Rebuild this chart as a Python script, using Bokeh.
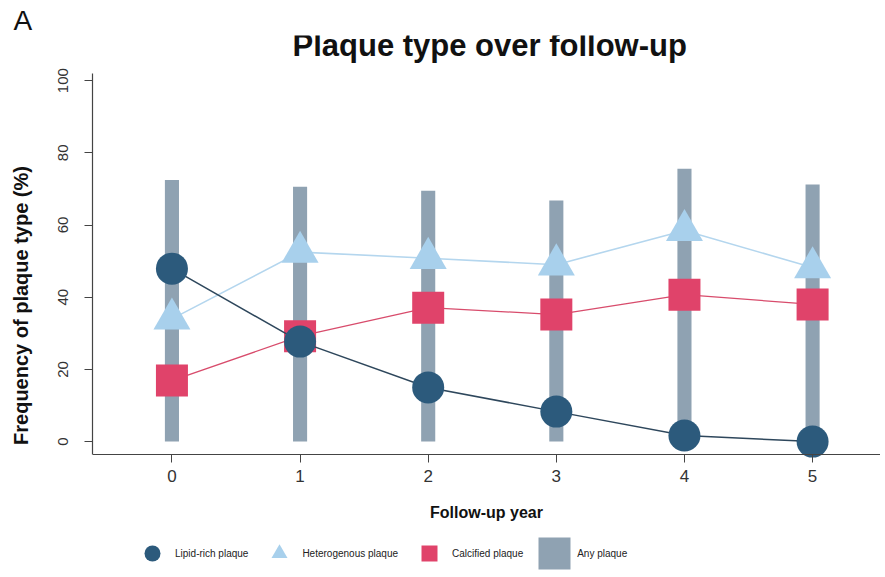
from bokeh.plotting import figure
from bokeh.models import Range1d, Legend, LegendItem, Label, FixedTicker
from bokeh.embed import file_html
from bokeh.resources import INLINE

# ---- data ----
years = [0, 1, 2, 3, 4, 5]
any_plaque = [72.5, 70.6, 69.5, 66.8, 75.6, 71.2]
lipid_rich = [47.9, 27.7, 15.0, 8.3, 1.7, 0.0]
heterogenous = [34.0, 52.5, 50.8, 49.0, 58.5, 48.2]
calcified = [16.9, 29.2, 37.1, 35.2, 40.7, 38.0]
y_ticks = [0, 20, 40, 60, 80, 100]

FONT = "Liberation Sans"
Y_AXIS_BOTTOM = -3.6   # where the x axis line sits (data units)

p = figure(width=880, height=575, output_backend="svg", toolbar_location=None,
           x_range=Range1d(-0.62, 5.53), y_range=Range1d(-37.1, 112.5),
           min_border_left=92, min_border_right=0, min_border_top=35,
           min_border_bottom=0)
p.outline_line_color = None
p.grid.visible = False

# panel letter
p.title.text = "A"
p.title.align = "left"
p.title.offset = -79
p.title.text_font = FONT
p.title.text_font_size = "28px"
p.title.text_font_style = "normal"
p.title.text_color = "#111111"
p.title.standoff = 0

# chart title
p.add_layout(Label(x=2.48, y=109.6, text="Plaque type over follow-up",
                   text_align="center", text_baseline="alphabetic",
                   text_font=FONT, text_font_size="31px", text_font_style="bold",
                   text_color="#111111"))

# bars
bars = p.vbar(x=years, top=any_plaque, bottom=0, width=0.11,
              fill_color="#8fa2b2", line_color=None)

# heterogenous (triangles)
p.line(years, heterogenous, line_color="#b4d6ee", line_width=1.6)
tri = p.scatter(years, heterogenous, marker="triangle", size=37,
                fill_color="#a8d0ec", line_color=None)

# calcified (squares)
p.line(years, calcified, line_color="#d84c6c", line_width=1.3)
sq = p.scatter(years, calcified, marker="square", size=32,
               fill_color="#e0436a", line_color=None)

# lipid-rich (circles)
p.line(years, lipid_rich, line_color="#2e475c", line_width=1.5)
circ = p.scatter(years, lipid_rich, marker="circle", size=32,
                 fill_color="#2c5a7c", line_color=None)

# axes
for ax in (p.xaxis[0], p.yaxis[0]):
    ax.axis_line_color = "#444444"
    ax.axis_line_width = 1.2
    ax.major_tick_line_color = "#444444"
    ax.major_tick_out = 8
    ax.major_tick_in = 0
    ax.minor_tick_line_color = None
    ax.major_label_text_font = FONT
    ax.major_label_text_color = "#333333"
    ax.axis_label_text_font = FONT
    ax.axis_label_text_font_style = "bold"
    ax.axis_label_text_color = "#111111"

p.xaxis.fixed_location = Y_AXIS_BOTTOM
p.xaxis.ticker = FixedTicker(ticks=years)
p.xaxis.major_label_text_font_size = "17px"
p.xaxis.major_label_standoff = 7
p.xaxis.axis_label = "Follow-up year"
p.xaxis.axis_label_text_font_size = "16px"
p.xaxis.axis_label_standoff = 19

p.yaxis.bounds = (Y_AXIS_BOTTOM, 102)
p.yaxis.ticker = FixedTicker(ticks=y_ticks)
p.yaxis.major_label_orientation = "vertical"
p.yaxis.major_label_text_font_size = "15px"
p.yaxis.major_label_standoff = 16
p.yaxis.axis_label = "Frequency of plaque type (%)"
p.yaxis.axis_label_text_font_size = "20px"
p.yaxis.axis_label_standoff = 24

# legend
legend = Legend(items=[
    LegendItem(label="Lipid-rich plaque", renderers=[circ]),
    LegendItem(label="Heterogenous plaque", renderers=[tri]),
    LegendItem(label="Calcified plaque", renderers=[sq]),
    LegendItem(label="Any plaque", renderers=[bars]),
], orientation="horizontal", location=(40, 2),
   glyph_width=40, glyph_height=40, label_standoff=3, spacing=11,
   padding=0, margin=0, border_line_alpha=0, background_fill_alpha=0,
   label_text_font=FONT, label_text_font_size="10px",
   label_text_color="#222222")
p.add_layout(legend, "center")

open("out.html", "w").write(file_html(p, INLINE))
